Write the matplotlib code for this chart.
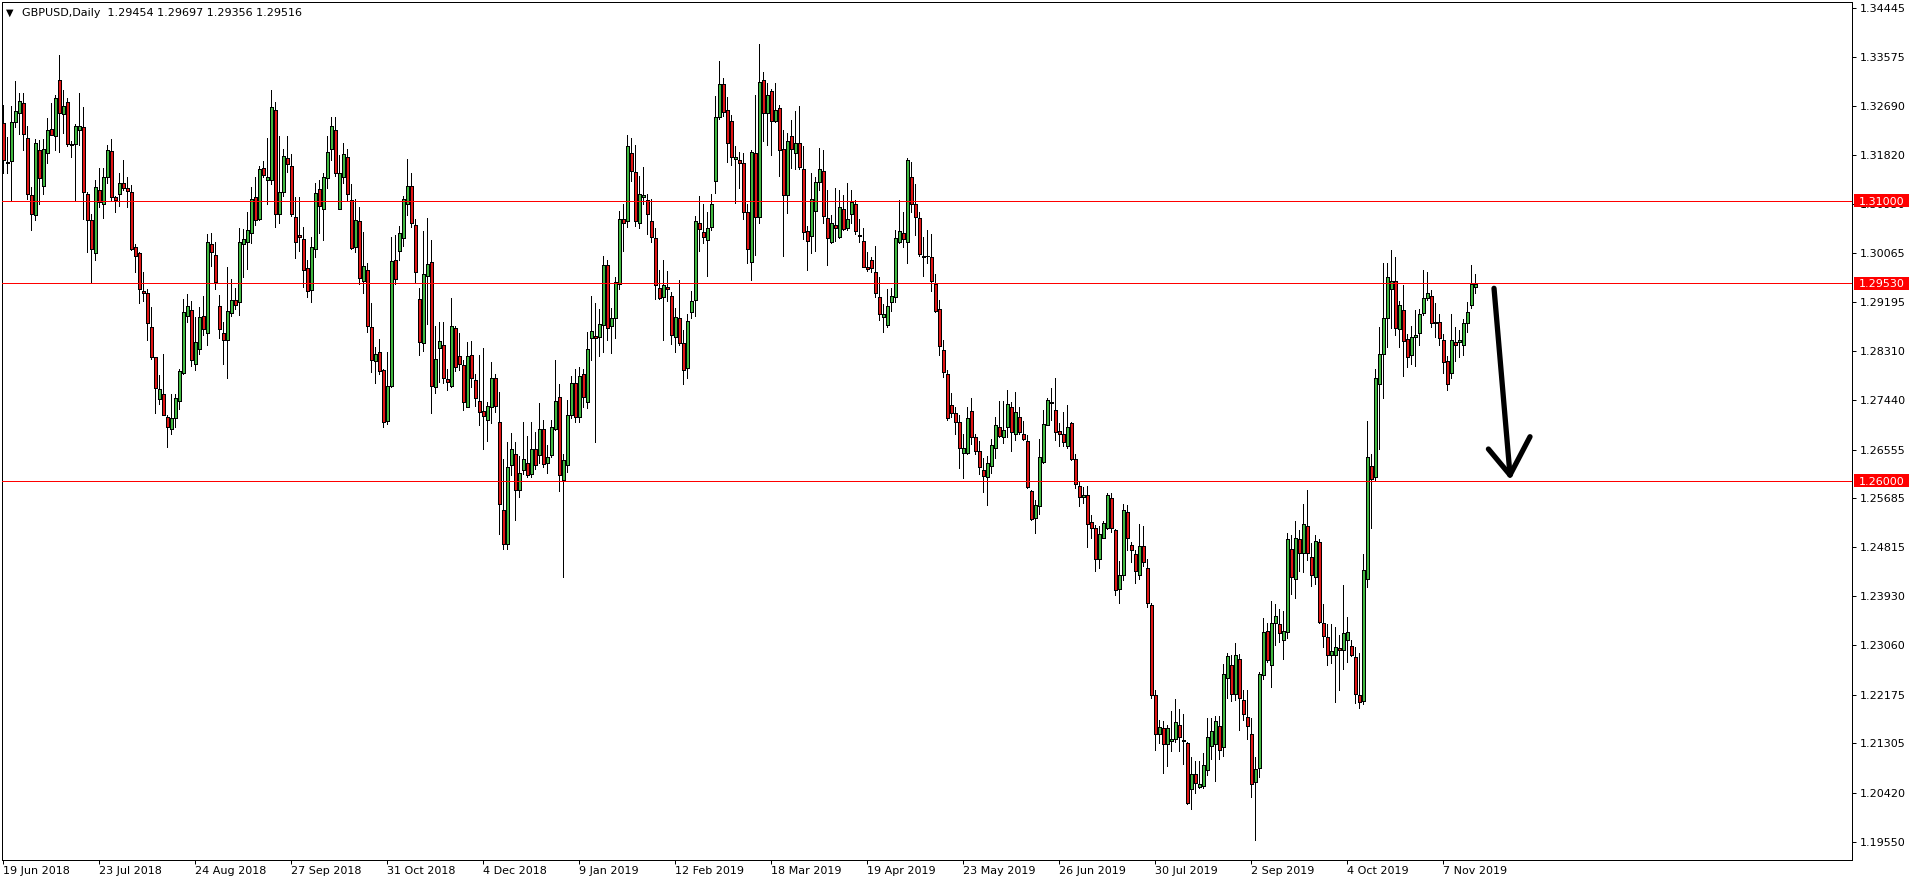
import numpy as np
import matplotlib
matplotlib.use("Agg")
import matplotlib.pyplot as plt
from matplotlib.patches import Rectangle
from matplotlib import transforms

# ---------------- data (prices x 10000) ----------------
opens = [13239,13170,13171,13240,13256,13274,13213,13111,13075,13190,13126,13186,13228,13216,13315,13255,13277,13202,13202,13227,
13231,13113,13065,13007,13120,13095,13142,13189,13106,13113,13132,13122,13116,13017,13007,12938,12936,12874,12820,12745,
12755,12714,12693,12712,12743,12792,12894,12905,12809,12836,12894,12864,13022,13004,12912,12864,12851,12900,12923,12920,
13022,13027,13043,13106,13068,13158,13138,13138,13262,13077,13116,13177,13163,13071,13038,13032,12979,12941,13014,13121,
13085,13140,13192,13227,13086,13142,13178,13101,13017,13064,12957,12977,12874,12814,12829,12797,12707,12769,12994,13011,
13033,13095,13126,13057,12924,12846,12966,12990,12768,12837,12843,12781,12769,12872,12822,12806,12732,12824,12780,12742,
12725,12709,12731,12783,12705,12548,12486,12628,12648,12583,12619,12632,12611,12656,12645,12693,12632,12645,12693,12749,
12601,12628,12717,12775,12714,12790,12741,12854,12858,12856,12878,12985,12876,12890,12952,13067,13063,13185,13151,13061,
13106,13101,13064,13034,12945,12928,12946,12930,12856,12890,12845,12802,12902,12922,13060,13045,13030,13054,13136,13250,
13309,13262,13243,13174,13173,13167,13080,12990,13185,13071,13315,13257,13296,13243,13265,13192,13111,13216,13186,13204,
13156,13046,13037,13082,13133,13153,13070,13027,13057,13036,13085,13052,13077,13095,13039,13029,12981,12994,12972,12928,
12893,12878,12919,12928,13027,13042,13027,13142,13094,13070,13002,13002,12999,12952,12906,12833,12790,12735,12721,12704,
12650,12650,12724,12677,12653,12619,12606,12626,12658,12695,12678,12696,12732,12684,12713,12684,12671,12582,12534,12555,
12634,12700,12740,12727,12689,12684,12662,12703,12638,12590,12570,12575,12526,12516,12459,12498,12516,12568,12511,12407,
12431,12544,12484,12469,12432,12483,12443,12377,12217,12148,12157,12130,12135,12139,12164,12136,12131,12048,12075,12053,
12054,12082,12125,12130,12161,12124,12248,12270,12219,12282,12208,12178,12148,12062,12087,12252,12331,12271,12345,12343,
12316,12330,12477,12425,12495,12470,12519,12464,12427,12490,12346,12321,12288,12288,12300,12298,12316,12304,12285,12216,
12206,12424,12626,12607,12772,12827,12890,12942,12957,12870,12904,12853,12825,12856,12863,12899,12926,12930,12883,12883,
12852,12814,12792,12848,12848,12843,12881,12913,12945.4]
highs = [13271,13214,13269,13314,13292,13292,13233,13125,13211,13208,13211,13248,13275,13289,13361,13298,13283,13206,13238,13293,
13268,13116,13077,13138,13158,13158,13199,13211,13109,13150,13172,13143,13128,13023,13009,12973,12942,12910,12821,12789,
12827,12718,12754,12754,12800,12925,12934,12921,12892,12910,12929,13041,13043,13026,12932,12883,12981,12961,12945,13051,
13050,13080,13124,13143,13162,13171,13213,13298,13276,13215,13192,13215,13183,13107,13106,13053,12994,13035,13131,13137,
13150,13215,13250,13250,13182,13203,13192,13130,13103,13088,13044,12989,12918,12839,12853,12800,12829,13036,13038,13055,
13108,13174,13150,13067,12945,13046,13070,13030,12876,12884,12884,12800,12926,12876,12863,12815,12848,12850,12790,12824,
12837,12741,12812,12791,12759,12638,12669,12685,12669,12644,12705,12679,12705,12687,12738,12709,12663,12708,12815,12772,
12647,12744,12787,12800,12803,12800,12866,12930,12917,12906,13001,12994,12909,12964,13082,13094,13218,13212,13200,13144,
13161,13113,13103,13051,12977,12995,12975,12937,12908,12958,12869,12897,12939,13073,13108,13095,13080,13113,13287,13350,
13319,13286,13253,13198,13188,13185,13095,13191,13289,13380,13331,13310,13299,13311,13271,13226,13222,13245,13260,13269,
13198,13055,13149,13143,13195,13191,13120,13074,13122,13119,13111,13131,13119,13101,13067,13051,13009,12999,13019,12963,
12915,12943,12945,13048,13101,13080,13177,13169,13130,13080,13036,13048,13040,12970,12922,12851,12797,12756,12732,12717,
12683,12731,12747,12683,12671,12640,12644,12674,12714,12743,12743,12762,12741,12758,12731,12707,12681,12584,12565,12674,
12726,12747,12765,12783,12703,12723,12735,12705,12647,12598,12589,12590,12538,12520,12519,12528,12578,12577,12514,12456,
12558,12556,12491,12476,12522,12519,12459,12382,12225,12172,12171,12164,12188,12209,12191,12182,12133,12106,12099,12099,
12113,12175,12175,12179,12179,12273,12292,12288,12309,12290,12225,12225,12175,12106,12258,12355,12345,12384,12379,12370,
12367,12507,12502,12527,12511,12559,12583,12489,12502,12495,12380,12344,12344,12339,12324,12413,12356,12315,12303,12291,
12468,12706,12648,12799,12875,12988,12989,13012,13000,12921,12949,12862,12876,12905,12907,12976,12973,12941,12918,12898,
12862,12822,12898,12874,12869,12888,12920,12985,12969.7]
lows = [13149,13150,13099,13231,13220,13190,13103,13047,13065,13095,13113,13168,13217,13190,13187,13221,13197,13178,13099,13199,
13068,13009,12955,12994,13089,13070,13131,13101,13080,13090,13119,13089,13012,12973,12917,12921,12852,12818,12721,12737,
12717,12660,12684,12696,12728,12791,12883,12804,12798,12827,12860,12842,12984,12943,12854,12809,12784,12894,12907,12895,
12963,12978,13025,13057,13065,13143,13095,13130,13053,13060,13108,13152,13073,12998,13010,12946,12928,12920,12999,13042,
13030,13122,13173,13144,13085,13131,13101,13013,13009,12952,12936,12866,12794,12775,12791,12695,12701,12768,12951,12994,
13019,13075,13054,12955,12824,12832,12880,12721,12757,12777,12775,12762,12768,12796,12797,12726,12731,12768,12734,12699,
12657,12671,12703,12723,12505,12478,12477,12610,12529,12570,12611,12606,12607,12620,12631,12625,12614,12642,12690,12581,
12427,12616,12711,12705,12705,12731,12729,12816,12669,12822,12830,12851,12828,12854,12942,13011,13054,13136,13055,13051,
13095,13040,13027,12924,12924,12852,12921,12844,12830,12842,12772,12784,12890,12894,13011,13024,12965,13048,13114,13247,
13251,13170,13164,13096,13122,13067,12988,12959,13003,13061,13206,13200,13182,13240,13144,13001,13079,13158,13156,13156,
13031,12977,13007,13011,13119,13060,12986,13024,13029,13033,13048,13048,13061,13040,13026,12981,12975,12973,12928,12887,
12865,12875,12903,12919,13024,13018,12988,13080,13038,13001,12965,12989,12939,12902,12824,12785,12709,12714,12683,12623,
12604,12647,12666,12647,12612,12580,12556,12613,12641,12678,12668,12677,12652,12672,12683,12672,12586,12529,12506,12541,
12632,12699,12708,12672,12661,12662,12658,12637,12586,12554,12560,12481,12498,12439,12443,12497,12514,12509,12396,12382,
12422,12476,12455,12417,12424,12447,12374,12212,12119,12131,12078,12090,12117,12133,12117,12094,12022,12014,12041,12050,
12051,12073,12103,12063,12103,12107,12211,12206,12208,12155,12172,12139,12035,11957,12070,12246,12276,12231,12306,12312,
12282,12319,12398,12391,12439,12437,12458,12412,12416,12346,12302,12270,12274,12204,12226,12264,12275,12287,12203,12194,
12201,12409,12516,12601,12656,12748,12838,12872,12860,12839,12787,12803,12809,12805,12842,12896,12923,12875,12857,12842,
12793,12761,12784,12814,12820,12824,12866,12908,12935.6]
closes = [13172,13168,13240,13261,13279,13220,13113,13076,13204,13141,13192,13226,13218,13284,13256,13270,13202,13200,13233,13234,
13115,13066,13013,13125,13097,13142,13190,13107,13102,13131,13122,13118,13014,13001,12942,12936,12882,12821,12766,12764,
12718,12696,12711,12748,12795,12901,12912,12815,12848,12892,12870,13026,13009,12954,12870,12852,12903,12923,12914,13026,
13031,13047,13104,13066,13156,13146,13143,13267,13077,13115,13180,13165,13077,13027,13036,12977,12939,13018,13114,13091,
13143,13188,13234,13149,13149,13184,13113,13015,13066,12962,12983,12877,12816,12826,12796,12705,12769,12993,12960,13042,
13104,13126,13060,12973,12848,12969,12987,12769,12818,12849,12784,12776,12876,12803,12808,12741,12822,12784,12748,12723,
12715,12733,12783,12733,12559,12487,12625,12657,12584,12613,12638,12610,12657,12628,12693,12629,12642,12695,12743,12610,
12637,12718,12774,12714,12787,12750,12836,12867,12854,12880,12985,12872,12890,12955,13067,13061,13198,13154,13064,13113,
13110,13076,13036,12950,12927,12950,12942,12860,12893,12845,12798,12885,12921,13064,13049,13035,13051,13095,13249,13309,
13259,13204,13179,13179,13168,13080,13013,13188,13071,13313,13257,13289,13243,13262,13191,13111,13207,13192,13204,13160,
13045,13029,13104,13133,13156,13073,13033,13061,13051,13088,13049,13068,13098,13046,13037,12982,12978,12979,12936,12897,
12897,12912,12930,13034,13046,13031,13173,13094,13071,13005,13000,13001,12957,12903,12841,12794,12712,12721,12705,12659,
12658,12711,12677,12652,12625,12608,12631,12663,12699,12680,12691,12737,12686,12722,12687,12674,12589,12531,12557,12643,
12701,12744,12738,12687,12684,12669,12695,12638,12593,12570,12575,12523,12516,12459,12504,12525,12574,12516,12405,12432,
12547,12497,12476,12439,12483,12454,12382,12217,12148,12159,12130,12157,12139,12168,12141,12134,12024,12075,12059,12057,
12092,12142,12152,12170,12119,12255,12286,12218,12288,12211,12182,12162,12057,12085,12255,12329,12279,12345,12358,12327,
12331,12496,12428,12498,12470,12523,12470,12432,12492,12347,12322,12288,12296,12302,12298,12327,12330,12289,12219,12204,
12441,12643,12602,12784,12827,12890,12963,12957,12872,12914,12850,12821,12857,12861,12897,12926,12935,12881,12881,12854,
12812,12772,12852,12842,12851,12881,12901,12952,12951.6]

date_labels = ['19 Jun 2018', '23 Jul 2018', '24 Aug 2018', '27 Sep 2018', '31 Oct 2018',
               '4 Dec 2018', '9 Jan 2019', '12 Feb 2019', '18 Mar 2019', '19 Apr 2019',
               '23 May 2019', '26 Jun 2019', '30 Jul 2019', '2 Sep 2019', '4 Oct 2019', '7 Nov 2019']
bars_per_label = 24
price_ticks = [1.34445, 1.33575, 1.32690, 1.31820, 1.30950, 1.30065, 1.29195, 1.28310, 1.27440,
               1.26555, 1.25685, 1.24815, 1.23930, 1.23060, 1.22175, 1.21305, 1.20420, 1.19550]
levels = [1.31000, 1.29530, 1.26000]
header = "GBPUSD,Daily  1.29454 1.29697 1.29356 1.29516"
# hand-drawn arrow (bar index, price)
arrow_shaft = ([372.7, 376.7], [1.29436, 1.26100])
arrow_left = ([371.3, 376.7], [1.26564, 1.26100])
arrow_right = ([381.7, 376.7], [1.26784, 1.26100])

O = np.array(opens) / 10000.0
H = np.array(highs) / 10000.0
L = np.array(lows) / 10000.0
C = np.array(closes) / 10000.0
x = np.arange(len(C))

# ---------------- figure ----------------
W, Hpx = 1916, 884
fig = plt.figure(figsize=(W / 100, Hpx / 100), dpi=100)
fig.patch.set_facecolor('white')
ax = fig.add_axes([2 / W, 24 / Hpx, 1850 / W, 858 / Hpx])
ax.set_facecolor('white')

GREEN = '#40b840'
RED = '#e01515'
px = 0.72  # 1 pixel in points

ax.vlines(x, L, H, colors='black', linewidth=px, antialiased=False, zorder=2)
up = C >= O
body_col = np.where(up, GREEN, RED)
ax.bar(x, C - O, bottom=O, width=0.7, color=body_col, edgecolor='black',
       linewidth=px, antialiased=False, zorder=3)

for lv in levels:
    ax.axhline(lv, color='#ff0000', linewidth=px, zorder=4)

ax.plot(*arrow_shaft, color='black', linewidth=3.8, solid_capstyle='round', zorder=5)
ax.plot(*arrow_left, color='black', linewidth=3.8, solid_capstyle='round', zorder=5)
ax.plot(*arrow_right, color='black', linewidth=3.8, solid_capstyle='round', zorder=5)

ax.set_xlim(-0.325, 462.2)
ax.set_ylim(1.192198, 1.345522)

# axes / ticks
for sp in ax.spines.values():
    sp.set_linewidth(px)
    sp.set_color('black')
ax.yaxis.tick_right()
ax.set_yticks(price_ticks)
ax.set_yticklabels(['%.5f' % v for v in price_ticks])
ax.set_xticks(np.arange(len(date_labels)) * bars_per_label)
ax.set_xticklabels(date_labels)
ax.tick_params(axis='y', direction='out', length=2.8, width=px, pad=3, labelsize=8, colors='black')
ax.tick_params(axis='x', direction='out', length=2.8, width=px, pad=1.5, labelsize=8, colors='black')
for t in ax.get_xticklabels():
    t.set_ha('left')

# level price labels on the right scale
blend = transforms.blended_transform_factory(ax.transAxes, ax.transData)
box_h = 13 * (1.345522 - 1.192198) / 858
for lv in levels:
    ax.add_patch(Rectangle((1.0011, lv - box_h / 2), 55 / 1850, box_h, transform=blend,
                           facecolor='#ff0000', edgecolor='none', clip_on=False, zorder=10))
    ax.text(1.0011 + 27.5 / 1850, lv, '%.5f' % lv, transform=blend, color='white',
            fontsize=8, ha='center', va='center_baseline', clip_on=False, zorder=11)

# header
fig.text(6 / W, 1 - 13 / Hpx, '\u25bc', fontsize=7, ha='left', va='center', color='black')
fig.text(22 / W, 1 - 13 / Hpx, header, fontsize=8, ha='left', va='center', color='black')

fig.savefig('out.png', dpi=100, facecolor='white')
